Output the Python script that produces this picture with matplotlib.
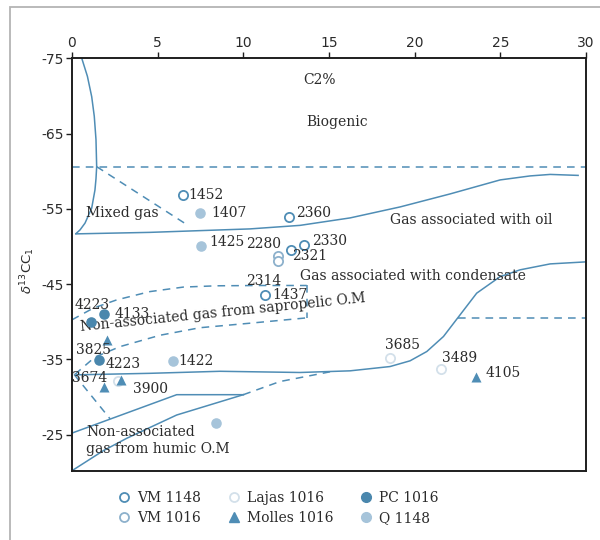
import matplotlib
matplotlib.use("Agg")
import matplotlib.pyplot as plt
from matplotlib.patches import Rectangle
from matplotlib.lines import Line2D

plt.rcParams["axes.unicode_minus"] = False

# ---- sample data: C2 % (x) vs delta13C of C1 (y) ----
vm1148_x = [6.46, 12.69, 13.54, 12.78, 11.27]
vm1148_y = [-56.8, -53.9, -50.2, -49.5, -43.5]
vm1148_lab = ["1452", "2360", "2330", "2321", "1437"]

vm1016_x = [12.03, 12.03]
vm1016_y = [-48.7, -48.1]
vm1016_lab = ["2280", "2314"]

lajas_x = [18.56, 21.52, 2.70]
lajas_y = [-35.2, -33.7, -32.1]
lajas_lab = ["3685", "3489", ""]

molles_x = [2.06, 1.85, 2.86, 23.57]
molles_y = [-37.6, -31.3, -32.3, -32.6]
molles_lab = ["", "3674", "3900", "4105"]

pc_x = [1.09, 1.89, 1.58]
pc_y = [-39.9, -41.0, -34.9]
pc_lab = ["4223", "4133", "3825"]

q_x = [7.49, 7.51, 5.91, 8.39]
q_y = [-54.5, -50.1, -34.8, -26.5]
q_lab = ["1407", "1425", "1422", ""]

# ---- genetic field boundaries ----
biogenic_x = [0.57, 0.90, 1.15, 1.30, 1.40, 1.44, 1.40, 1.34, 1.15, 0.76, 0.47, 0.23]
biogenic_y = [-75.0, -72.6, -69.9, -67.3, -64.2, -60.6, -59.0, -57.5, -55.1, -53.1, -52.2, -51.7]

oil_x = [0.23, 4.55, 10.39, 13.31, 16.23, 19.15, 22.07, 24.99, 26.74, 27.91, 29.54]
oil_y = [-51.67, -51.87, -52.33, -52.80, -53.79, -55.25, -56.98, -58.84, -59.37, -59.57, -59.44]

cond_x = [0.27, 4.55, 8.64, 13.31, 16.23, 18.56, 19.73, 20.71, 21.68, 22.65, 23.62, 24.99, 26.15, 27.91, 30.0]
cond_y = [-32.94, -33.14, -33.41, -33.25, -33.47, -34.04, -34.80, -36.04, -38.03, -40.91, -43.79, -45.99, -46.89, -47.68, -47.95]

biogenic_limit_y = -60.6
mixed_diag_x = [1.44, 6.73]
mixed_diag_y = [-60.6, -52.86]

cond_limit_x = [22.55, 30.0]
cond_limit_y = [-40.47, -40.47]

sapro_top_x = [0.0, 1.24, 2.61, 4.55, 6.50, 8.45, 10.97, 13.7]
sapro_top_y = [-40.25, -41.8, -42.9, -44.0, -44.6, -44.77, -44.81, -44.81]
sapro_side_x = [13.7, 13.7]
sapro_side_y = [-44.81, -40.5]
sapro_low_x = [0.17, 1.34, 2.82, 5.14, 7.47, 10.39, 13.66]
sapro_low_y = [-33.0, -35.3, -36.7, -38.2, -39.2, -39.8, -40.5]

humic_top_x = [0.0, 6.11, 10.0]
humic_top_y = [-25.2, -30.3, -30.3]
humic_low_x = [0.0, 1.82, 3.19, 6.11, 10.0]
humic_low_y = [-20.2, -22.85, -24.5, -27.6, -30.3]
humic_ext_x = [10.0, 12.14, 15.06]
humic_ext_y = [-30.3, -32.05, -33.34]
humic_diag_x = [0.12, 2.22]
humic_diag_y = [-33.0, -27.1]

# ---- styles ----
LINE = "#4f8db5"
C_VM1148 = "#4f8db5"
C_VM1016 = "#8db1cc"
C_LAJAS = "#d3e0ea"
C_MOLLES = "#4f8db5"
C_PC = "#4a87ad"
C_Q = "#a6c4da"
TXT = "#2b2b2b"
SERIF = "DejaVu Serif"
FS = 10

fig = plt.figure(figsize=(6.0, 5.4), dpi=100)
fig.patches.append(Rectangle((9.5 / 600, -0.1), 1.2, 1.1 - 7.5 / 540,
                             transform=fig.transFigure, fill=False,
                             edgecolor="#b4b4b4", linewidth=1.3))

ax = fig.add_axes([72 / 600, 1 - 470.7 / 540, (586 - 72) / 600, (470.7 - 58.3) / 540])
ax.set_xlim(0, 30)
ax.set_ylim(-20.2, -75)

for s in ax.spines.values():
    s.set_color("#1e1e1e")
    s.set_linewidth(1.4)
ax.xaxis.tick_top()
ax.set_xticks([0, 5, 10, 15, 20, 25, 30])
ax.set_yticks([-75, -65, -55, -45, -35, -25])
ax.tick_params(axis="both", length=4, width=1, color="#1e1e1e",
               labelsize=10, labelcolor=TXT, pad=2)
ax.tick_params(axis="x", top=True, bottom=False)
ax.tick_params(axis="y", right=False)

fig.text(28 / 600, 1 - 271 / 540, r"$\delta^{13}$C$\mathrm{C}_1$", rotation=90,
         ha="center", va="center", fontsize=9.5, color=TXT)

lw = 1.1
dash = dict(color=LINE, lw=lw, ls=(0, (5, 4)))
ax.plot(biogenic_x, biogenic_y, color=LINE, lw=lw)
ax.plot(oil_x, oil_y, color=LINE, lw=lw)
ax.plot(cond_x, cond_y, color=LINE, lw=lw)
ax.plot(humic_top_x, humic_top_y, color=LINE, lw=lw)
ax.plot(humic_low_x, humic_low_y, color=LINE, lw=lw)
ax.axhline(biogenic_limit_y, **dash)
ax.plot(mixed_diag_x, mixed_diag_y, **dash)
ax.plot(cond_limit_x, cond_limit_y, **dash)
ax.plot(sapro_top_x, sapro_top_y, **dash)
ax.plot(sapro_side_x, sapro_side_y, **dash)
ax.plot(sapro_low_x, sapro_low_y, **dash)
ax.plot(humic_ext_x, humic_ext_y, **dash)
ax.plot(humic_diag_x, humic_diag_y, **dash)

ms = 44
ax.scatter(vm1148_x, vm1148_y, s=ms, facecolors="white", edgecolors=C_VM1148, linewidths=1.3, zorder=5)
ax.scatter(vm1016_x, vm1016_y, s=ms, facecolors="white", edgecolors=C_VM1016, linewidths=1.3, zorder=5)
ax.scatter(lajas_x, lajas_y, s=ms, facecolors="white", edgecolors=C_LAJAS, linewidths=1.3, zorder=5)
ax.scatter(molles_x, molles_y, s=52, marker="^", color=C_MOLLES, linewidths=0, zorder=6)
ax.scatter(pc_x, pc_y, s=58, color=C_PC, linewidths=0, zorder=5)
ax.scatter(q_x, q_y, s=58, color=C_Q, linewidths=0, zorder=5)

# label offsets in pixels (dx, dy), text anchored left-center
offsets = {
    "1452": (6, 0), "2360": (7, 4), "2330": (8, 4), "2321": (1, -6), "1437": (7, 0),
    "2280": (-32, 12), "2314": (-32, -20),
    "3685": (-5, 13), "3489": (1, 11),
    "3674": (-32, 9), "3900": (12, -9), "4105": (10, 4),
    "4223": (-16, 17), "4133": (10, 0), "3825": (-23, 10),
    "1407": (11, 0), "1425": (9, 4), "1422": (5, 0),
}
for xs, ys, labs in [(vm1148_x, vm1148_y, vm1148_lab), (vm1016_x, vm1016_y, vm1016_lab),
                     (lajas_x, lajas_y, lajas_lab), (molles_x, molles_y, molles_lab),
                     (pc_x, pc_y, pc_lab), (q_x, q_y, q_lab)]:
    for x, y, lab in zip(xs, ys, labs):
        if not lab:
            continue
        ax.annotate(lab, (x, y), xytext=offsets[lab], textcoords="offset pixels",
                    ha="left", va="center", fontsize=FS, family=SERIF, color=TXT, zorder=7)
# second 4223 sample beside 3825
ax.annotate("4223", (pc_x[2], pc_y[2]), xytext=(6, -4), textcoords="offset pixels",
            ha="left", va="center", fontsize=FS, family=SERIF, color=TXT, zorder=7)

tk = dict(fontsize=FS, family=SERIF, color=TXT)
ax.text(14.47, -72.1, "C2%", ha="center", va="center", **tk)
ax.text(13.66, -66.5, "Biogenic", ha="left", va="center", **tk)
ax.text(0.82, -54.5, "Mixed gas", ha="left", va="center", **tk)
ax.text(18.56, -53.5, "Gas associated with oil", ha="left", va="center", **tk)
ax.text(13.31, -46.1, "Gas associated with condensate", ha="left", va="center", **tk)
ax.text(8.79, -41.2, "Non-associated gas from sapropelic O.M", ha="center", va="center",
        rotation=5.8, rotation_mode="anchor", **tk)
ax.text(0.82, -24.2, "Non-associated\ngas from humic O.M", ha="left", va="center",
        linespacing=1.2, **tk)

handles = [
    Line2D([], [], ls="", marker="o", ms=6.5, mfc="white", mec=C_VM1148, mew=1.3, label="VM 1148"),
    Line2D([], [], ls="", marker="o", ms=6.5, mfc="white", mec=C_VM1016, mew=1.3, label="VM 1016"),
    Line2D([], [], ls="", marker="o", ms=6.5, mfc="white", mec=C_LAJAS, mew=1.3, label="Lajas 1016"),
    Line2D([], [], ls="", marker="^", ms=7, color=C_MOLLES, label="Molles 1016"),
    Line2D([], [], ls="", marker="o", ms=7, color=C_PC, label="PC 1016"),
    Line2D([], [], ls="", marker="o", ms=7, color=C_Q, label="Q 1148"),
]
fig.legend(handles=handles, ncol=3, loc="center", bbox_to_anchor=(0.462, 1 - 508 / 540),
           frameon=False, prop={"family": SERIF, "size": FS}, handletextpad=0.3,
           columnspacing=1.8, labelspacing=0.4, handlelength=1.2, labelcolor=TXT)

fig.savefig("out.png", dpi=100)
